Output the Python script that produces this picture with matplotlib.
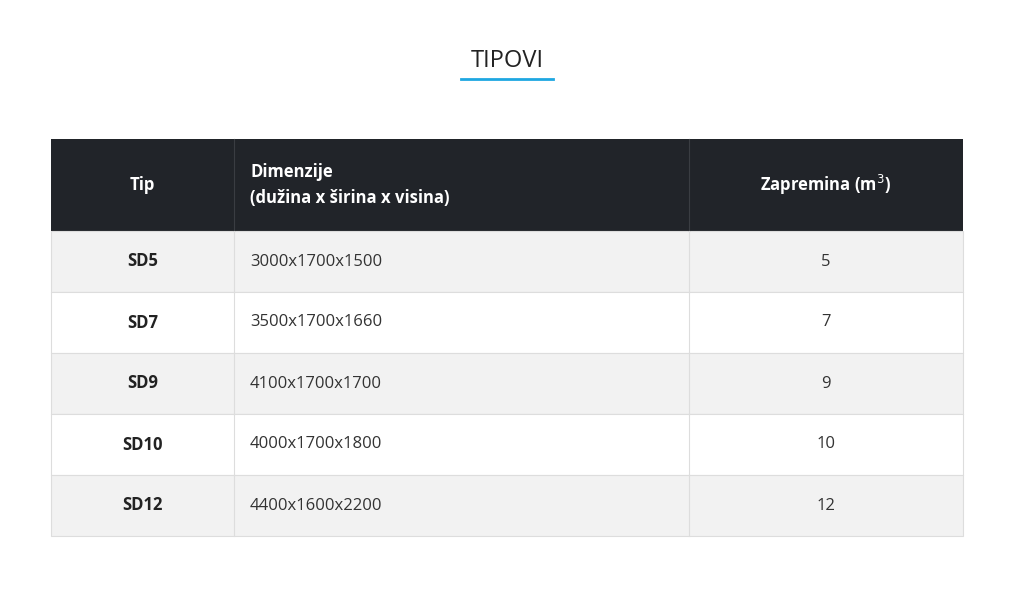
import matplotlib.pyplot as plt
from matplotlib.patches import Rectangle

plt.rcParams['font.family'] = ['Open Sans', 'DejaVu Sans']

title = "TIPOVI"
headers = ["Tip", "Dimenzije\n(dužina x širina x visina)", "Zapremina (m$^3$)"]
types = ["SD5", "SD7", "SD9", "SD10", "SD12"]
dims = ["3000x1700x1500", "3500x1700x1660", "4100x1700x1700", "4000x1700x1800", "4400x1600x2200"]
volumes = [5, 7, 9, 10, 12]

W, H = 1021, 593
fig = plt.figure(figsize=(W / 100, H / 100), dpi=100)
ax = fig.add_axes([0, 0, 1, 1])
ax.set_xlim(0, W)
ax.set_ylim(H, 0)
ax.axis('off')

# title + underline
ax.text(507, 61, title, ha='center', va='center', fontsize=17, color='#222222')
ax.plot([461, 553], [79, 79], color='#1ea7e1', lw=2)

cols = [51, 234, 689, 963]
top, head_h, row_h = 139, 92, 61
border = '#dddddd'

ax.add_patch(Rectangle((cols[0], top), cols[-1] - cols[0], head_h, facecolor='#212429', edgecolor='none'))
for x in cols[1:-1]:
    ax.plot([x, x], [top, top + head_h], color='#3a3d42', lw=0.8)
hy = top + head_h / 2
ax.text((cols[0] + cols[1]) / 2, hy, headers[0], ha='center', va='center', color='white', fontsize=12, fontweight='bold')
ax.text(cols[1] + 16, hy, headers[1], ha='left', va='center', color='white', fontsize=12, fontweight='bold', linespacing=1.6)
ax.text((cols[2] + cols[3]) / 2, hy, headers[2], ha='center', va='center', color='white', fontsize=12, fontweight='bold')

for i, (t, d, v) in enumerate(zip(types, dims, volumes)):
    y0 = top + head_h + i * row_h
    fc = '#f2f2f2' if i % 2 == 0 else 'white'
    ax.add_patch(Rectangle((cols[0], y0), cols[-1] - cols[0], row_h, facecolor=fc, edgecolor=border, lw=0.8))
    for x in cols[1:-1]:
        ax.plot([x, x], [y0, y0 + row_h], color=border, lw=0.8)
    cy = y0 + row_h / 2
    ax.text((cols[0] + cols[1]) / 2, cy, t, ha='center', va='center', fontsize=12, fontweight='bold', color='#222222')
    ax.text(cols[1] + 16, cy, d, ha='left', va='center', fontsize=12, color='#333333')
    ax.text((cols[2] + cols[3]) / 2, cy, str(v), ha='center', va='center', fontsize=12, color='#333333')

fig.savefig('out.png', dpi=100)
